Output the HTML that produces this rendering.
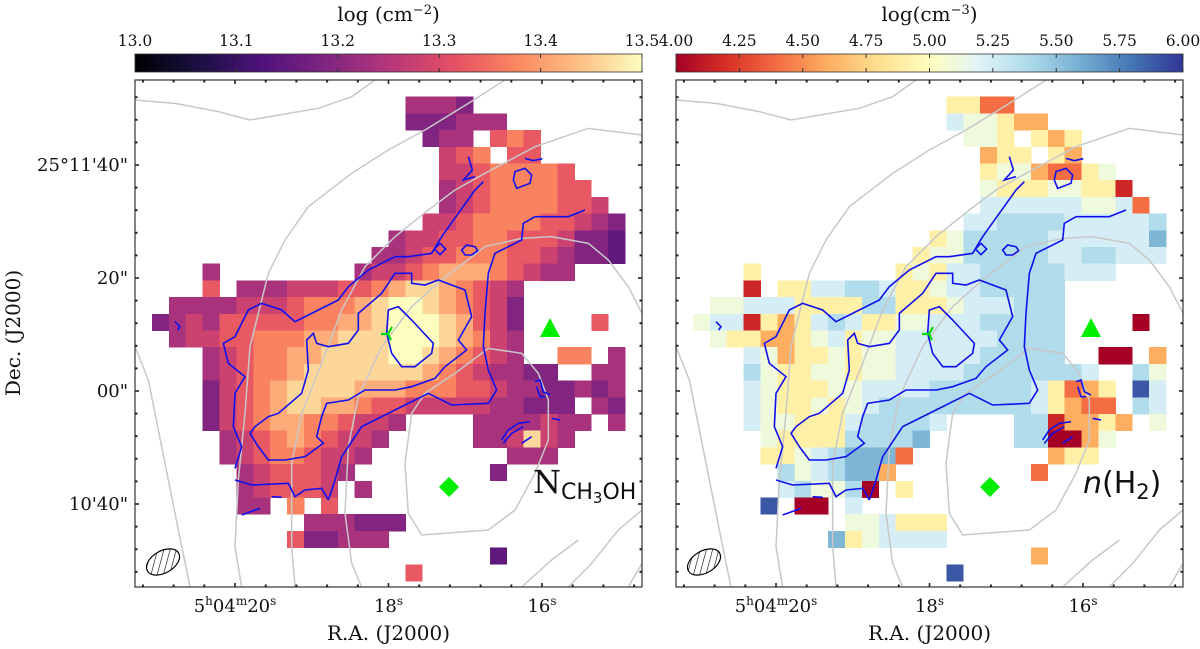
<!DOCTYPE html>
<html><head><meta charset="utf-8">
<style>
html,body{margin:0;padding:0;background:#fff;}
svg{display:block;}
.serif{font-family:"DejaVu Serif","Liberation Serif",serif;}
.sans{font-family:"DejaVu Sans","Liberation Sans",sans-serif;}
</style></head>
<body>
<svg id="fig" width="1200" height="649" viewBox="0 0 1200 649" xmlns="http://www.w3.org/2000/svg">
<defs>
<linearGradient id="magma" x1="0" x2="1" y1="0" y2="0">
<stop offset="0" stop-color="#000004"/><stop offset="0.13" stop-color="#1c1044"/><stop offset="0.25" stop-color="#4f127b"/><stop offset="0.38" stop-color="#812581"/><stop offset="0.5" stop-color="#b5367a"/><stop offset="0.63" stop-color="#e55064"/><stop offset="0.75" stop-color="#fb8761"/><stop offset="0.88" stop-color="#fec287"/><stop offset="1" stop-color="#fcfdbf"/>
</linearGradient>
<linearGradient id="rdylbu" x1="0" x2="1" y1="0" y2="0">
<stop offset="0" stop-color="#a50026"/><stop offset="0.1" stop-color="#d73027"/><stop offset="0.2" stop-color="#f46d43"/><stop offset="0.3" stop-color="#fdae61"/><stop offset="0.4" stop-color="#fee090"/><stop offset="0.5" stop-color="#ffffbf"/><stop offset="0.6" stop-color="#e0f3f8"/><stop offset="0.7" stop-color="#abd9e9"/><stop offset="0.8" stop-color="#74add1"/><stop offset="0.9" stop-color="#4575b4"/><stop offset="1" stop-color="#313695"/>
</linearGradient>
<pattern id="hatch" width="6" height="6" patternUnits="userSpaceOnUse" patternTransform="rotate(45)">
<line x1="0" y1="0" x2="0" y2="6" stroke="#000" stroke-width="1.2"/>
</pattern>
</defs>
</svg>
<script>
// ---- data ----
const leftCbTicks = ["13.0","13.1","13.2","13.3","13.4","13.5"];
const rightCbTicks = ["4.00","4.25","4.50","4.75","5.00","5.25","5.50","5.75","6.00"];
const raTickLabels = ["5h04m20s","18s","16s"];
const decTickLabels = ["25°11'40\"","20\"","00\"","10'40\""];
// column-density level grid (0-9 -> 13.0..13.5), '.' = blank
const colDensityRows = [
"..............................",
"................3332..........",
"................222333........",
".................233.565......",
"..................456.55......",
"..................44566665....",
"..................345666655...",
"..................3456666554..",
".................445666655432.",
"...............34455665554221.",
"..............334556665543221.",
"....3........3445677765433....",
"....5.33344455678876543.......",
"..333344456667899876542.......",
".2343555556677899987542....5..",
"..344556667788899987643.......",
"....3456677888899876543..66.3.",
"....345667888888876543322..33.",
"....2456788887776665543322323.",
"....2456788776554444433222.32.",
"....245677665443....3333433.3.",
".....3456765443.....334843....",
".....345665443........333.....",
"......3455543........2........",
"......345554.3................",
"......33.6.5..................",
"..........333222..............",
".........522333...............",
".....................1........",
"................5............."
];
// H2 density level grid (0-9 -> 4.0..6.0), '.' = blank
const densityRows = [
"..............................",
"................4422..........",
"................655433........",
".................554.434......",
"..................344.43......",
"..................45532245....",
"..................544455441...",
"..................6666665562..",
".................667777666667.",
"...............45777776666668.",
"..............455777776677666.",
"....4........4546677777666....",
"....1.44667764456677777.......",
"..556664444774445666777.......",
".5661434676445566677777....0..",
"..544334564556666667777.......",
"....6534454556666677777..00.3.",
"....754455455666677777776..75.",
"....6544455666677777764234.96.",
"....6544545677777777764322.76.",
"....655444677776....7713343.5.",
".....5444477778.....770035....",
".....445678882........344.....",
"......7567883........2........",
"......675570.4................",
".....9.00.6...................",
"..........556444..............",
".........8456666..............",
".....................3........",
"................9............."
];
const magmaT = [0.22,0.3,0.38,0.47,0.56,0.65,0.74,0.83,0.92,1.0];
const rdT = [0.0,0.08,0.2,0.3,0.45,0.55,0.62,0.69,0.78,0.95];

// ---- helpers ----
const NS="http://www.w3.org/2000/svg";
const svg=document.getElementById('fig');
function mk(tag,attrs,parent){const e=document.createElementNS(NS,tag);for(const k in attrs)e.setAttribute(k,attrs[k]);(parent||svg).appendChild(e);return e;}
function hex(h){return [parseInt(h.slice(1,3),16),parseInt(h.slice(3,5),16),parseInt(h.slice(5,7),16)];}
const magmaStops=[[0,"#000004"],[0.13,"#1c1044"],[0.25,"#4f127b"],[0.38,"#812581"],[0.5,"#b5367a"],[0.63,"#e55064"],[0.75,"#fb8761"],[0.88,"#fec287"],[1,"#fcfdbf"]];
const rdStops=[[0,"#a50026"],[0.1,"#d73027"],[0.2,"#f46d43"],[0.3,"#fdae61"],[0.4,"#fee090"],[0.5,"#ffffbf"],[0.6,"#e0f3f8"],[0.7,"#abd9e9"],[0.8,"#74add1"],[0.9,"#4575b4"],[1,"#313695"]];
function cmap(stops,t){for(let i=1;i<stops.length;i++){if(t<=stops[i][0]){const a=stops[i-1],b=stops[i];const f=(t-a[0])/(b[0]-a[0]);const ca=hex(a[1]),cb=hex(b[1]);return "rgb("+ca.map((v,j)=>Math.round(v+(cb[j]-v)*f)).join(",")+")";}}return stops[stops.length-1][1];}

const PW=507, PH=507, PY=80;
const panels=[{x:135,name:'column-density'},{x:676,name:'h2-density'}];
const NCOL=30, NROWDOMAIN=30.36;

function xCell(px,c){return px+c*PW/NCOL;}
function yCell(r){return PY+r*PH/NROWDOMAIN;}

// ---- colorbars ----
function colorbar(px,grad,labels,title,nm){
  const g=mk('g',{});
  
  
  mk('rect',{x:px,y:54,width:PW,height:18,fill:'url(#'+grad+')',stroke:'#333','stroke-width':0.8},g);
  labels.forEach((l,i)=>{
    const x=px+i*PW/(labels.length-1);
    mk('line',{x1:x,y1:54,x2:x,y2:58,stroke:'#333','stroke-width':1},g);
    mk('line',{x1:x,y1:72,x2:x,y2:68,stroke:'#333','stroke-width':1},g);
    const t=mk('text',{x:x,y:46,'text-anchor':'middle','font-size':15.5,class:'serif',fill:'#111'},g);
    t.textContent=l;
    
    
  });
  const tt=mk('text',{x:px+PW/2,y:21,'text-anchor':'middle','font-size':20,class:'serif',fill:'#111'},g);
  tt.innerHTML=title;
  
  
}
colorbar(135,'magma',leftCbTicks,'log (cm<tspan dy="-7" font-size="13">−2</tspan><tspan dy="7">)</tspan>','colorbar-column-density');
colorbar(676,'rdylbu',rightCbTicks,'log(cm<tspan dy="-7" font-size="13">−3</tspan><tspan dy="7">)</tspan>','colorbar-h2-density');

// grey & blue contours in zoom units (x3)
const greyPaths=[
"M0,60 L120,70 L250,95 L345,120 L550,85 L650,50 L720,0",
"M1110,0 L1000,70 L870,150 L760,210 L650,280 L520,380 L450,480 L400,580 L370,700 L345,800 L330,1000 L310,1200 L300,1400 L320,1521",
"M1521,165 L1360,145 L1200,200 L1050,280 L960,330 L880,390 L780,470 L690,560 L620,690 L560,850 L500,1000 L470,1150 L470,1400 L480,1521",
"M1521,700 L1480,620 L1420,540 L1360,490 L1250,470 L1160,475 L1050,500 L920,600 L830,680 L740,800 L670,950 L640,1100 L630,1300 L650,1450 L680,1521",
"M1060,805 L1160,820 L1210,880 L1240,960 L1240,1080 L1200,1180 L1140,1290 L1060,1350 L860,1365 L820,1300 L810,1150 L830,1000 L870,940 L960,880 Z",
"M0,800 L40,900 L80,1100 L130,1350 L165,1521",
"M1521,1290 L1450,1350 L1370,1450 L1300,1521",
"M1521,1450 L1480,1521",
"M1160,1521 L1250,1440 L1330,1380"
];
const bluePaths=[
"M1350,390 L1300,410 L1200,410 L1165,430 L1160,480 L1080,520 L1060,580 L1050,700 L1045,800 L1060,870 L1085,930 L1060,970 L950,975 L880,940 L780,990 L680,1040 L620,1130 L600,1200 L580,1260",
"M300,1165 L320,1100 L295,1040 L300,940 L330,890 L280,850 L265,790 L300,770 L340,690 L380,670 L440,690 L480,725 L550,690 L610,660 L640,620 L700,570 L780,530 L820,530 L890,520 L920,470 L970,400 L1020,330 L1045,305",
"M300,1200 L350,1215 L460,1210 L480,1250 L510,1230 L560,1225 L580,1260",
"M345,1060 L360,1040 L400,1010 L430,1000 L500,940 L520,870 L515,780 L535,760 L545,790 L580,800 L640,790 L670,750 L670,700 L740,640 L780,580 L830,580 L830,610 L870,615 L910,600 L990,630 L1010,710 L970,780 L995,810 L930,860 L900,895 L830,920 L780,930 L690,930 L640,960 L575,970 L560,1010 L545,1070 L565,1090 L510,1130 L450,1140 L400,1140 L370,1100 Z",
"M760,690 L790,680 L830,720 L895,790 L890,820 L840,860 L800,860 L770,820 L755,760 Z",
"M980,510 L995,495 L1020,500 L1028,512 L1010,525 L990,525 Z",
"M1140,275 L1170,265 L1190,285 L1185,310 L1145,325 L1135,300 Z",
"M915,490 L932,507 L915,524 L898,507 Z",
"M1000,230 L1012,270 L985,300 L1020,290",
"M1170,235 L1195,242 L1222,236",
"M1200,905 L1215,900 L1225,935 L1245,945 M1205,920 L1215,950 L1230,950",
"M1100,1080 L1120,1050 L1150,1030 L1185,1025 M1105,1090 L1130,1060 L1165,1040 M1160,1090 L1190,1070",
"M1250,1015 L1275,1020 M410,1250 L440,1252 M320,1305 L375,1285",
"M120,725 L135,740 L128,750"
];

panels.forEach((p,pi)=>{
  const rows= pi===0?colDensityRows:densityRows;
  const g=mk('g',{});
  
  
  mk('rect',{x:p.x,y:PY,width:PW,height:PH,fill:'#fff'},g);
  const hm=mk('g',{'shape-rendering':'crispEdges'},g);
  
  
  rows.forEach((row,r)=>{
    for(let c=0;c<row.length;c++){
      const ch=row[c]; if(ch==='.')continue;
      const L=+ch;
      const col= pi===0?cmap(magmaStops,magmaT[L]):cmap(rdStops,rdT[L]);
      const x0=xCell(p.x,c), x1=xCell(p.x,c+1), y0=yCell(r), y1=yCell(r+1);
      const cell=mk('rect',{x:x0.toFixed(2),y:y0.toFixed(2),width:(x1-x0+0.4).toFixed(2),height:(y1-y0+0.4).toFixed(2),fill:col},hm);
      
      
    }
  });
  const cg=mk('g',{transform:'translate('+p.x+','+PY+') scale('+(1/3)+')'},g);
  greyPaths.forEach(d=>{const e=mk('path',{d:d,fill:'none',stroke:'#c8c8c8','stroke-width':1.5,'vector-effect':'non-scaling-stroke'},cg);
    
    });
  bluePaths.forEach(d=>{const e=mk('path',{d:d,fill:'none',stroke:'#1010ee','stroke-width':1.6,'vector-effect':'non-scaling-stroke'},cg);
    
    });
  // markers
  const tri=mk('polygon',{points:(p.x+415)+','+(80+238)+' '+(p.x+405)+','+(80+257)+' '+(p.x+425)+','+(80+257),fill:'#00ee00'},g);
  
  
  const dia=mk('polygon',{points:(p.x+314)+','+(487-10)+' '+(p.x+324)+','+487+' '+(p.x+314)+','+(487+10)+' '+(p.x+304)+','+487,fill:'#00ee00'},g);
  
  
  const y=mk('path',{d:'M'+(p.x+246)+','+334+' L'+(p.x+253)+','+334+' M'+(p.x+253)+','+334+' L'+(p.x+257)+','+327+' M'+(p.x+253)+','+334+' L'+(p.x+256)+','+340,stroke:'#00dd00','stroke-width':2.2,fill:'none'},g);
  
  
  // beam ellipse
  const be=mk('ellipse',{cx:p.x+28,cy:562,rx:18,ry:11,transform:'rotate(-30 '+(p.x+28)+' 562)',fill:'url(#hatch)',stroke:'#000','stroke-width':1.2},g);
  
  
  // frame
  mk('rect',{x:p.x,y:PY,width:PW,height:PH,fill:'none',stroke:'#333','stroke-width':1.2},g);
  const xMaj=[100,253.5,407];
  for(let k=-3;k<=16;k++){
    const xx=p.x+100+k*30.7; if(xx<p.x+2||xx>p.x+PW-2)continue;
    const maj=(k%5===0);
    const len=maj?4:2.5;
    mk('line',{x1:xx,y1:PY+PH,x2:xx,y2:PY+PH-len,stroke:'#222','stroke-width':maj?1.6:2},g);
    mk('line',{x1:xx,y1:PY,x2:xx,y2:PY+len,stroke:'#222','stroke-width':maj?1.6:2},g);
  }
  for(let k=-4;k<=20;k++){
    const yy=165+k*22.6; if(yy<PY+2||yy>PY+PH-2)continue;
    const maj=(k%5===0);
    const len=maj?4:2.5;
    mk('line',{x1:p.x,y1:yy,x2:p.x+len,y2:yy,stroke:'#222','stroke-width':maj?1.6:2},g);
    mk('line',{x1:p.x+PW,y1:yy,x2:p.x+PW-len,y2:yy,stroke:'#222','stroke-width':maj?1.6:2},g);
  }
  raTickLabels.forEach((l,i)=>{
    const t=mk('text',{x:p.x+xMaj[i],y:612,'text-anchor':'middle','font-size':18,class:'serif',fill:'#111'},g);
    if(i===0){t.innerHTML='5<tspan dy="-7" font-size="12">h</tspan><tspan dy="7">04</tspan><tspan dy="-7" font-size="12">m</tspan><tspan dy="7">20</tspan><tspan dy="-7" font-size="12">s</tspan>';}
    else{t.innerHTML=l.replace('s','')+'<tspan dy="-7" font-size="12">s</tspan>';}
    
    
  });
  const xl=mk('text',{x:p.x+PW/2,y:640,'text-anchor':'middle','font-size':20,class:'serif',fill:'#111'},g);
  xl.textContent='R.A. (J2000)';
  
  
});

decTickLabels.forEach((l,i)=>{
  const t=mk('text',{x:128,y:165+i*113+6,'text-anchor':'end','font-size':18,class:'serif',fill:'#111'});
  t.textContent=l;
  
  
});
const yl=mk('text',{x:20,y:333,'text-anchor':'middle','font-size':20,class:'serif',fill:'#111',transform:'rotate(-90 20 333)'});
yl.textContent='Dec. (J2000)';



const lab1=mk('text',{x:533,y:493,'font-size':32,class:'serif',fill:'#111'});
lab1.innerHTML='N<tspan class="sans" font-size="22" dy="6">CH</tspan><tspan class="sans" font-size="15" dy="4">3</tspan><tspan class="sans" font-size="22" dy="-4">OH</tspan>';


const lab2=mk('text',{x:1083,y:493,'font-size':30,class:'sans',fill:'#111'});
lab2.innerHTML='<tspan font-style="italic">n</tspan>(H<tspan font-size="21" dy="6">2</tspan><tspan dy="-6">)</tspan>';


</script>
</body></html>
